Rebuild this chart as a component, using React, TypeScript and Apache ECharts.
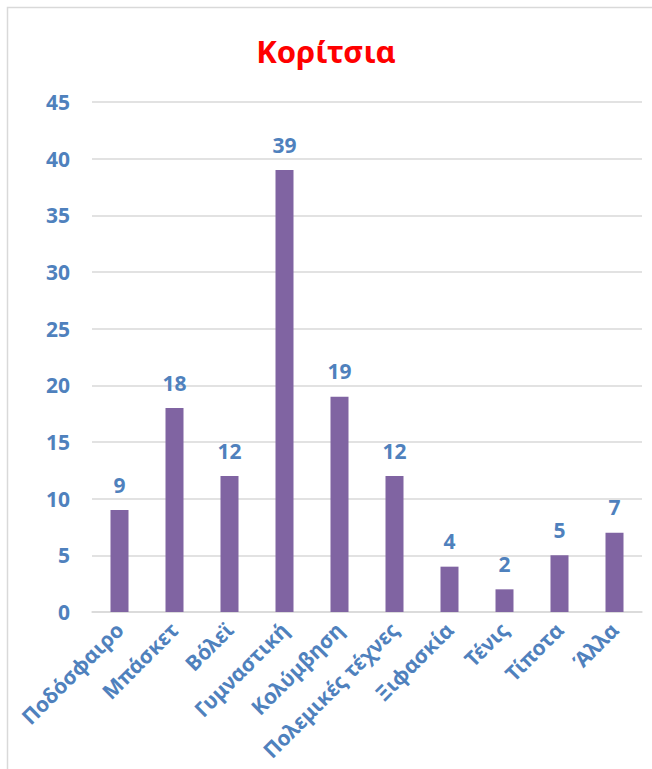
import React, { useEffect, useRef } from "react";
import * as echarts from "echarts";

const title = "Κορίτσια";
const categories = [
  "Ποδόσφαιρο",
  "Μπάσκετ",
  "Βόλεϊ",
  "Γυμναστική",
  "Κολύμβηση",
  "Πολεμικές τέχνες",
  "Ξιφασκία",
  "Τένις",
  "Τίποτα",
  "Άλλα",
];
const values = [9, 18, 12, 39, 19, 12, 4, 2, 5, 7];
const yMin = 0;
const yMax = 45;
const yStep = 5;

const BLUE = "#4F81BD";
const PURPLE = "#8064A2";
const FONT = "'Noto Sans', 'Open Sans', sans-serif";

export default function App() {
  const ref = useRef<HTMLDivElement>(null);
  useEffect(() => {
    document.body.style.margin = "0";
    const chart = echarts.init(ref.current!, null, { renderer: "svg" });
    chart.setOption({
      animation: false,
      backgroundColor: "#ffffff",
      title: {
        text: title,
        left: "center",
        top: 30,
        textStyle: { color: "#FF0000", fontSize: 31, fontWeight: "bold", fontFamily: FONT },
      },
      graphic: [
        {
          type: "rect",
          shape: { x: 7.5, y: 7.5, width: 700, height: 800 },
          style: { fill: "none", stroke: "#d9d9d9", lineWidth: 1.5 },
          silent: true,
        },
      ],
      grid: { left: 92, right: 10, top: 102, bottom: 157, outerBoundsMode: "none", containLabel: false },
      xAxis: {
        type: "category",
        data: categories,
        axisTick: { show: false },
        axisLine: { show: true, lineStyle: { color: "#d9d9d9", width: 1.5 } },
        axisLabel: {
          rotate: 45,
          interval: 0,
          margin: 14,
          color: BLUE,
          fontSize: 21,
          fontWeight: "bold",
          fontFamily: FONT,
        },
      },
      yAxis: {
        type: "value",
        min: yMin,
        max: yMax,
        interval: yStep,
        axisLine: { show: false },
        axisTick: { show: false },
        splitLine: { lineStyle: { color: "#d9d9d9", width: 1.5 } },
        axisLabel: {
          margin: 22,
          color: BLUE,
          fontSize: 21,
          fontWeight: "bold",
          fontFamily: FONT,
        },
      },
      series: [
        {
          type: "bar",
          data: values,
          barWidth: 18,
          itemStyle: { color: PURPLE },
          label: {
            show: true,
            position: "top",
            distance: 15,
            color: BLUE,
            fontSize: 21,
            fontWeight: "bold",
            fontFamily: FONT,
          },
        },
      ],
    });
    return () => chart.dispose();
  }, []);
  return <div ref={ref} style={{ width: 652, height: 769 }} />;
}
